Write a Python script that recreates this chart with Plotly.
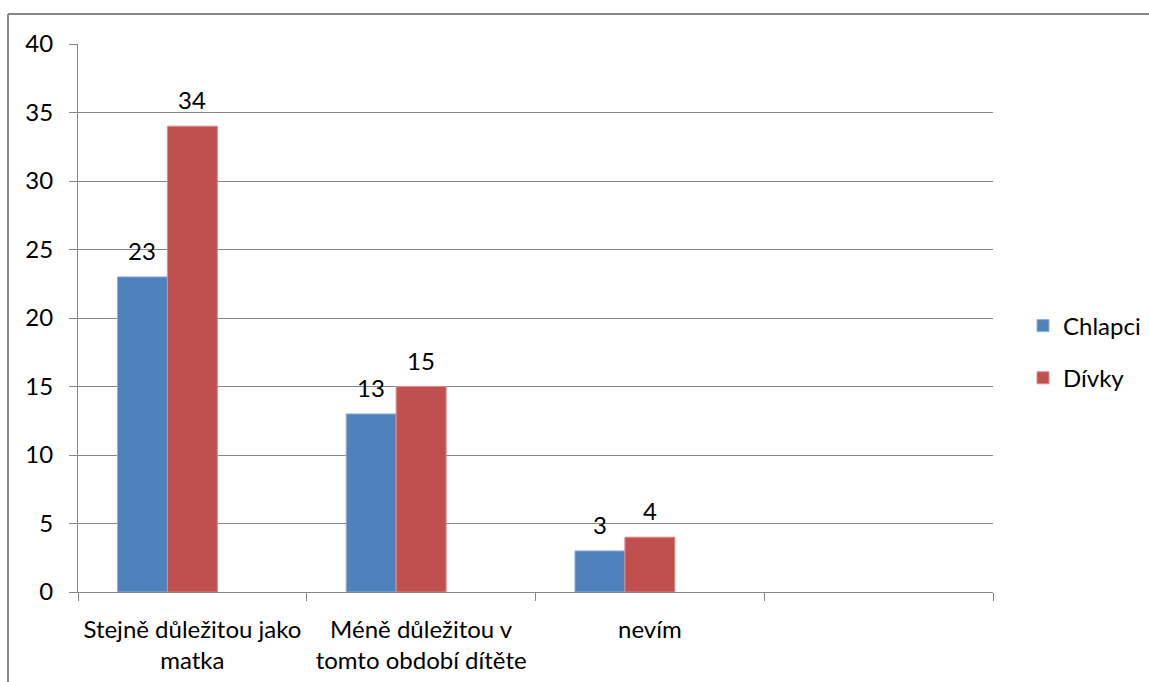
import plotly.graph_objects as go

categories = ["Stejně důležitou jako<br>matka", "Méně důležitou v<br>tomto období dítěte", "nevím", " "]
chlapci = [23, 13, 3, None]
divky = [34, 15, 4, None]
empty_series = [None, None, None, None]
series_names = ["Chlapci", "Dívky"]
y_ticks = [0, 5, 10, 15, 20, 25, 30, 35, 40]

FONT = "Lato"
FS = 24
W, H = 1149, 682
L, R, T, B = 78, 1149 - 993, 44, 682 - 592
pw, ph = W - L - R, H - T - B

def px2x(px):
    return (px - L) / pw

def py2y(py):
    return (H - B - py) / ph

fig = go.Figure()
series = [(series_names[0], chlapci, "#4F81BD", "#8FB0DA", -50),
          (series_names[1], divky, "#C0504D", "#DA8C8A", 0)]
for name, vals, col, lc, shift in series:
    fig.add_trace(go.Bar(
        x=categories, y=vals, name=name, legendgroup=name,
        marker=dict(color=col, line=dict(color=lc, width=1)),
    ))
    for c, v in zip(categories, vals):
        if v is None:
            continue
        fig.add_annotation(x=c, y=v, text=str(v), showarrow=False,
                           xanchor="center", yanchor="bottom", xshift=shift, yshift=10,
                           font=dict(family=FONT, size=FS, color="#000"))
# third (empty) series slot, as in the original
fig.add_trace(go.Bar(x=categories, y=empty_series, name="", showlegend=False,
                     marker=dict(color="#9BBB59"), hoverinfo="skip"))

gray = "#868686"
fig.update_layout(
    width=W, height=H,
    margin=dict(l=L, r=R, t=T, b=B, pad=0, autoexpand=False),
    paper_bgcolor="white", plot_bgcolor="white",
    barmode="group", bargap=0.345, bargroupgap=0,
    font=dict(family=FONT, size=FS, color="#000"),
    showlegend=True,
    legend=dict(x=px2x(1023), y=py2y(352), xanchor="left", yanchor="middle",
                font=dict(family=FONT, size=FS), traceorder="grouped", tracegroupgap=18,
                itemwidth=30, bgcolor="rgba(0,0,0,0)"),
    xaxis=dict(type="category", categoryorder="array", categoryarray=categories,
               range=[-0.5, 3.5], tickson="boundaries", ticks="outside", ticklen=8,
               tickcolor=gray, showline=True, linecolor=gray, linewidth=1,
               showgrid=False, tickfont=dict(family=FONT, size=FS), ticklabelstandoff=16,
               fixedrange=True),
    yaxis=dict(range=[0, 40], tickvals=y_ticks, ticks="outside", ticklen=8,
               tickcolor=gray, showline=True, linecolor=gray, linewidth=1,
               showgrid=True, gridcolor=gray, gridwidth=1, zeroline=False,
               tickfont=dict(family=FONT, size=FS), ticklabelstandoff=11),
)

# outer chart border (top and left edges visible)
bx, by = px2x(8), py2y(14)
fig.add_shape(type="line", xref="paper", yref="paper", x0=bx, x1=px2x(1160), y0=by, y1=by,
              line=dict(color=gray, width=2))
fig.add_shape(type="line", xref="paper", yref="paper", x0=bx, x1=bx, y0=by, y1=py2y(700),
              line=dict(color=gray, width=2))

fig.write_html("out.html")
